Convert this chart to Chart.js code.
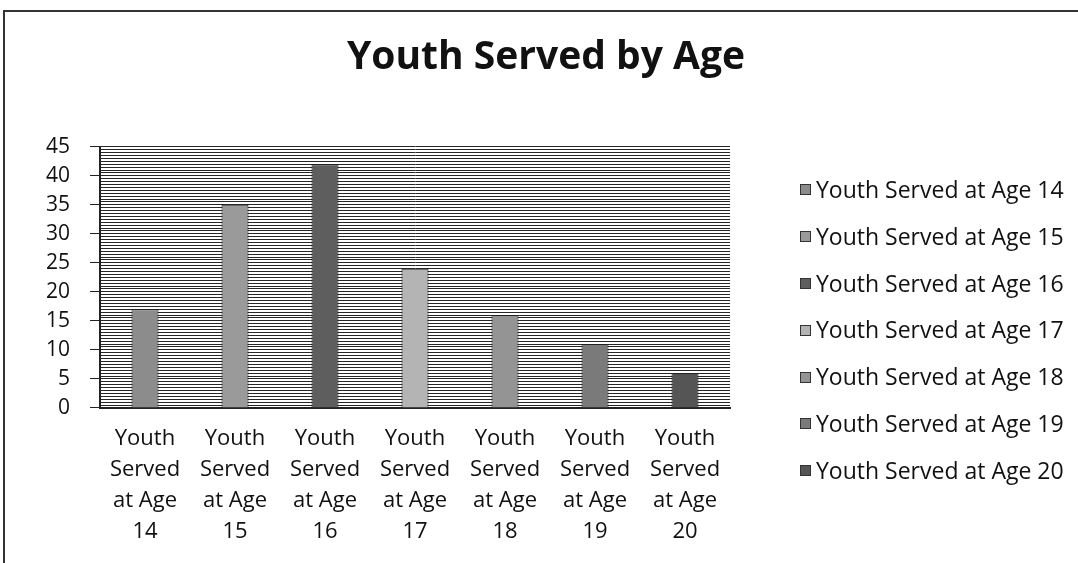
<!DOCTYPE html>
<html>
<head>
<meta charset="utf-8">
<script src="https://cdn.jsdelivr.net/npm/chart.js@4.4.1/dist/chart.umd.min.js"></script>
<style>
  html, body { margin: 0; padding: 0; background: #fff; overflow: hidden; }
  #frame { position: absolute; left: 3px; top: 10px; width: 1100px; height: 600px;
           border-left: 2px solid #333; border-top: 2px solid #333; }
  #chart { position: absolute; left: 0; top: 0; }
  #legend { position: absolute; left: 800px; top: 166px; font-family: 'Open Sans', 'DejaVu Sans', sans-serif;
            font-size: 23px; color: #111; }
  .legend-item { height: 46.8px; line-height: 46.8px; white-space: nowrap; }
  .legend-color { display: inline-block; width: 9px; height: 9px; border: 1px solid #333;
                  margin-right: 5px; vertical-align: middle; position: relative; top: -2px; }
</style>
</head>
<body>
<div id="frame"></div>
<canvas id="chart" width="1078" height="563"></canvas>
<div id="legend"></div>
<script>
const ages = ["14", "15", "16", "17", "18", "19", "20"];
const categories = ages.map((a) => ["Youth", "Served", "at Age", a]);
const legendNames = ages.map((a) => "Youth Served at Age " + a);
const youthServed = [17, 35, 42, 24, 16, 11, 6];
const barColors = ["#8c8c8c", "#9a9a9a", "#5e5e5e", "#b4b4b4", "#949494", "#7a7a7a", "#555555"];
const yTicks = [0, 5, 10, 15, 20, 25, 30, 35, 40, 45];

const FONT = "'Open Sans', 'DejaVu Sans', sans-serif";

function renderLegend() {
  const legend = document.getElementById("legend");
  legendNames.forEach((name, i) => {
    const item = document.createElement("div");
    item.className = "legend-item";
    item.innerHTML = `<span class="legend-color" style="background:${barColors[i]};"></span><span>${name}</span>`;
    legend.appendChild(item);
  });
}
renderLegend();

new Chart(document.getElementById("chart"), {
  type: "bar",
  data: {
    labels: categories,
    datasets: [{
      label: "Youth Served",
      data: youthServed,
      backgroundColor: barColors,
      borderColor: "#222",
      borderWidth: 1,
      categoryPercentage: 0.8,
      barPercentage: 0.375
    }]
  },
  options: {
    responsive: false,
    animation: false,
    layout: { padding: { top: 15, left: 20, right: 6, bottom: 9 } },
    plugins: {
      title: {
        display: true,
        text: "Youth Served by Age",
        color: "#111",
        font: { family: FONT, size: 39, weight: "bold" },
        padding: { top: 19, bottom: 66 }
      },
      legend: { display: false },
      tooltip: { enabled: false }
    },
    scales: {
      x: {
        grid: { display: false },
        border: { display: true, color: "#222", width: 2 },
        ticks: {
          color: "#111",
          font: { family: FONT, size: 22, lineHeight: 1.41 },
          padding: 7,
          maxRotation: 0,
          autoSkip: false
        }
      },
      y: {
        min: 0,
        max: 45,
        afterFit: (scale) => { scale.width = 80; },
        grid: {
          color: "#262626",
          lineWidth: 1,
          drawTicks: true,
          tickLength: 10,
          tickColor: (ctx) => (ctx.tick && yTicks.includes(ctx.tick.value) ? "#222" : "rgba(0,0,0,0)")
        },
        border: { display: true, color: "#222", width: 2 },
        ticks: {
          stepSize: 0.5,
          autoSkip: false,
          color: "#111",
          padding: 20,
          font: { family: FONT, size: 21 },
          callback: (v) => (yTicks.includes(v) ? String(v) : "")
        }
      },
      gap: {
        position: "right",
        display: true,
        grid: { display: false },
        border: { display: false },
        ticks: { display: false },
        afterFit: (scale) => { scale.width = 342; }
      }
    }
  }
});
</script>
</body>
</html>
